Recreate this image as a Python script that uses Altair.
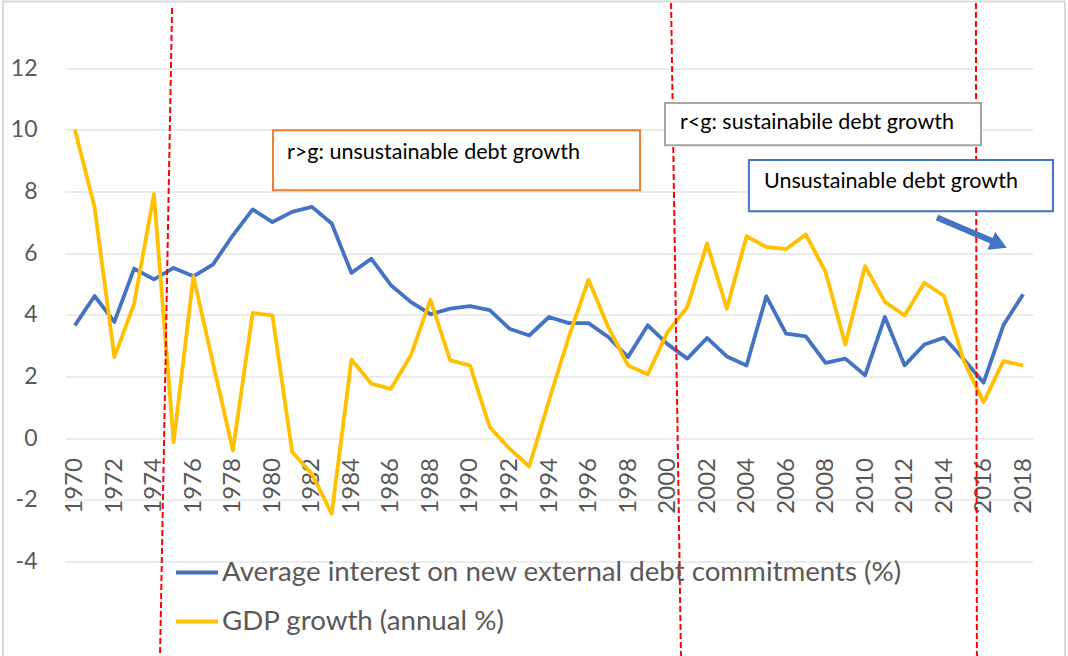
import altair as alt
import pandas as pd

# ---- data ----
years = list(range(1970, 2019))
interest = [3.66, 4.61, 3.77, 5.50, 5.15, 5.52, 5.25, 5.64, 6.58, 7.42,
            7.01, 7.34, 7.50, 6.96, 5.36, 5.82, 4.96, 4.42, 4.02, 4.20,
            4.28, 4.15, 3.55, 3.33, 3.93, 3.73, 3.73, 3.28, 2.63, 3.66,
            3.05, 2.58, 3.25, 2.65, 2.36, 4.60, 3.39, 3.30, 2.44, 2.58,
            2.04, 3.93, 2.36, 3.04, 3.26, 2.55, 1.80, 3.66, 4.67]
gdp = [10.01, 7.48, 2.63, 4.36, 7.91, -0.13, 5.25, 2.41, -0.40, 4.06,
       3.98, -0.45, -1.16, -2.45, 2.55, 1.77, 1.60, 2.68, 4.49, 2.52,
       2.36, 0.36, -0.34, -0.92, 1.22, 3.28, 5.14, 3.60, 2.36, 2.07,
       3.44, 4.25, 6.31, 4.20, 6.55, 6.20, 6.13, 6.61, 5.39, 3.04,
       5.58, 4.42, 3.98, 5.04, 4.61, 2.50, 1.17, 2.50, 2.36]
series_names = ["Average interest on new external debt commitments (%)",
                "GDP growth (annual %)"]
series_colors = ["#4472C4", "#FFC000"]
x_tick_years = list(range(1970, 2019, 2))
y_ticks = [-4, -2, 0, 2, 4, 6, 8, 10, 12]

# annotation geometry in data units (year, value)
vline_x = [1974.92, 2000.18, 2015.61]
vline_x2 = [1974.31, 2000.68, 2015.66]
vline_y = [13.95, 14.11, 14.11]
vline_y2 = [-7.09, -7.09, -7.09]

box_texts = ["r>g: unsustainable debt growth",
             "r<g: sustainabile debt growth",
             "Unsustainable debt growth"]
box_x = [1980.03, 1999.87, 2004.12]
box_x2 = [1998.61, 2015.87, 2019.51]
box_y = [9.99, 10.87, 9.02]
box_y2 = [8.04, 9.50, 7.36]
box_stroke = ["#ED7D31", "#A5A5A5", "#4472C4"]
text_x = [1980.74, 2000.63, 2004.88]
text_y = [9.24, 10.22, 8.30]

arrow_x = [2013.64]
arrow_x2 = [2016.55]
arrow_y = [7.16]
arrow_y2 = [6.36]
head_x = [2016.78]
head_y = [6.29]

# ---- tables (all use the same field names so axes are shared) ----
long = pd.DataFrame({
    "year": years * 2,
    "value": interest + gdp,
    "series": [series_names[0]] * len(years) + [series_names[1]] * len(years),
})
vlines = pd.DataFrame({"year": vline_x, "year2": vline_x2,
                       "value": vline_y, "value2": vline_y2})
boxes = pd.DataFrame({"year": box_x, "year2": box_x2,
                      "value": box_y, "value2": box_y2, "stroke": box_stroke})
labels = pd.DataFrame({"year": text_x, "value": text_y, "label": box_texts})
arrow = pd.DataFrame({"year": arrow_x, "year2": arrow_x2,
                      "value": arrow_y, "value2": arrow_y2})
head = pd.DataFrame({"year": head_x, "value": head_y})

W, H = 968, 555
FONT = "Lato"
GRAY = "#595959"

X = alt.X("year:Q",
          scale=alt.Scale(domain=[1969.5, 2018.5], nice=False, zero=False),
          axis=alt.Axis(values=x_tick_years, format="d", labelAngle=-90,
                        offset=-124, ticks=False, domain=False, grid=False,
                        labelPadding=20, labelFontSize=24, labelColor=GRAY,
                        labelFont=FONT, labelFlush=False, labelOverlap=False,
                        title=None))
Y = alt.Y("value:Q",
          scale=alt.Scale(domain=[-4, 14], nice=False, zero=False),
          axis=alt.Axis(values=y_ticks, grid=True, gridColor="#D9D9D9",
                        gridWidth=1.2, domain=False, ticks=False,
                        labelExpr="toString(datum.value)",
                        labelPadding=28, labelFontSize=23, labelColor=GRAY,
                        labelFont=FONT, title=None))

lines = alt.Chart(long).mark_line(strokeWidth=3.8, strokeJoin="round").encode(
    x=X, y=Y,
    color=alt.Color("series:N",
                    scale=alt.Scale(domain=series_names, range=series_colors),
                    legend=alt.Legend(orient="none", legendX=109, legendY=543,
                                      direction="vertical", title=None,
                                      symbolType="stroke", symbolSize=1764,
                                      symbolStrokeWidth=3.8, labelFontSize=27.7,
                                      labelColor=GRAY, labelFont=FONT,
                                      labelLimit=1000, rowPadding=12,
                                      labelOffset=2, padding=0)),
    order=alt.Order("year:Q"),
)

red = alt.Chart(vlines).mark_rule(color="#FF0000", strokeWidth=2,
                                  strokeDash=[6, 3]).encode(
    x=X, x2="year2:Q", y=Y, y2="value2:Q",
)

rects = alt.Chart(boxes).mark_rect(fill="white", strokeWidth=2).encode(
    x=X, x2="year2:Q", y=Y, y2="value2:Q",
    stroke=alt.Stroke("stroke:N", scale=None),
)

texts = alt.Chart(labels).mark_text(align="left", baseline="middle",
                                    font=FONT, fontSize=21.5,
                                    color="black").encode(
    x=X, y=Y, text="label:N",
)

shaft = alt.Chart(arrow).mark_rule(color="#4472C4", strokeWidth=6).encode(
    x=X, x2="year2:Q", y=Y, y2="value2:Q",
)

arrowhead = alt.Chart(head).mark_point(shape="triangle-right", filled=True,
                                       color="#4472C4", size=380, angle=24,
                                       opacity=1).encode(x=X, y=Y)

frame = alt.Chart(head).mark_rect(fillOpacity=0, stroke="#D9D9D9",
                                  strokeWidth=2).encode(
    x=alt.value(-62), x2=alt.value(1000), y=alt.value(-5), y2=alt.value(662),
)

chart = alt.layer(lines, red, rects, texts, shaft, arrowhead, frame).properties(
    width=W, height=H,
    autosize=alt.AutoSizeParams(type="none"),
    padding={"left": 65, "top": 6.5, "right": 35, "bottom": 94.5},
    background="white",
).configure_view(stroke=None)

chart.save("out.html", embed_options={"renderer": "svg", "actions": False})
